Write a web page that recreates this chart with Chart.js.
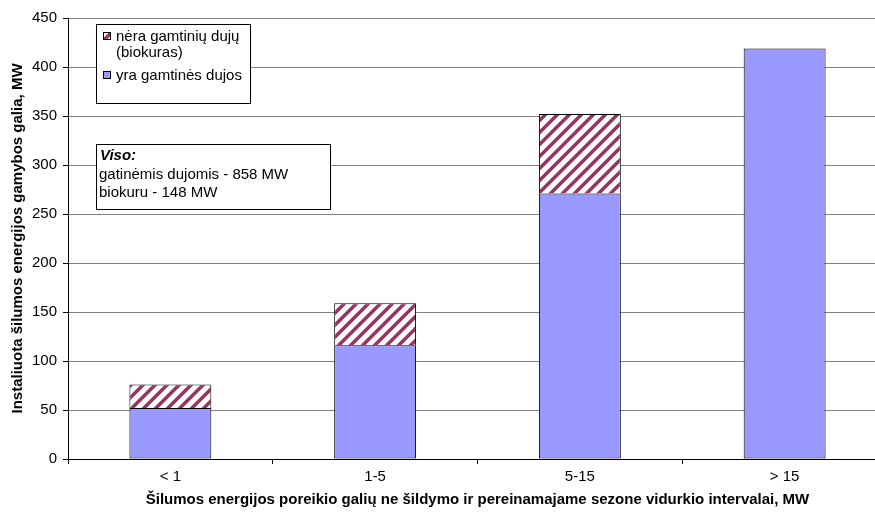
<!DOCTYPE html>
<html>
<head>
<meta charset="utf-8">
<script src="https://cdn.jsdelivr.net/npm/chart.js@4"></script>
<style>
  html, body { margin: 0; padding: 0; background: #fff; overflow: hidden; }
  #wrap { width: 875px; height: 512px; position: relative; overflow: hidden; }
  #chart { position: absolute; left: 0; top: 0; }
</style>
</head>
<body>
<!-- plot area runs a little past the right edge, like the original -->
<div id="wrap"><canvas id="chart" width="887" height="512"></canvas></div>
<script>
const categories = ['< 1', '1-5', '5-15', '> 15'];
const gasValues = [52, 116, 271, 419];
const bioValues = [24, 43, 81, 0];
const yTicks = [0, 50, 100, 150, 200, 250, 300, 350, 400, 450];

const gasLabel = 'yra gamtinės dujos';
const bioLabel = ['nėra gamtinių dujų', '(biokuras)'];
const xTitle = 'Šilumos energijos poreikio galių ne šildymo ir pereinamajame sezone vidurkio intervalai, MW';
const yTitle = 'Instaliuota šilumos energijos gamybos galia, MW';

const FONT = '"Liberation Sans", Arial, sans-serif';

// diagonal maroon stripes on white
function makeHatch() {
  const c = document.createElement('canvas');
  c.width = 12; c.height = 12;
  const g = c.getContext('2d');
  g.fillStyle = '#fff';
  g.fillRect(0, 0, 12, 12);
  g.strokeStyle = '#993366';
  g.lineWidth = 3.5;
  g.beginPath();
  g.moveTo(-3, 15); g.lineTo(15, -3);
  g.moveTo(-9, 9); g.lineTo(9, -9);
  g.moveTo(3, 21); g.lineTo(21, 3);
  g.stroke();
  return g.createPattern(c, 'repeat');
}
const ctx = document.getElementById('chart').getContext('2d');
const hatch = makeHatch();

const sum = arr => arr.reduce((a, b) => a + b, 0);

// legend and summary boxes drawn inside the plot
const boxes = {
  id: 'boxes',
  afterDraw(chart) {
    const c = chart.ctx;
    c.save();
    c.lineWidth = 1;
    c.strokeStyle = '#000';
    c.fillStyle = '#fff';
    c.fillRect(96.5, 24.5, 154, 79);
    c.strokeRect(96.5, 24.5, 154, 79);
    c.font = '15px ' + FONT;
    c.textBaseline = 'middle';
    // hatched entry
    c.fillStyle = hatch;
    c.fillRect(103.5, 32.5, 7, 7);
    c.strokeRect(103.5, 32.5, 7, 7);
    c.fillStyle = '#000';
    c.fillText(bioLabel[0], 116, 37);
    c.fillText(bioLabel[1], 116, 53);
    // gas entry
    c.fillStyle = '#9999ff';
    c.fillRect(103.5, 71.5, 7, 7);
    c.strokeRect(103.5, 71.5, 7, 7);
    c.fillStyle = '#000';
    c.fillText(gasLabel, 116, 76);

    c.fillStyle = '#fff';
    c.fillRect(96.5, 144.5, 234, 65);
    c.strokeRect(96.5, 144.5, 234, 65);
    c.fillStyle = '#000';
    c.font = 'italic bold 15px ' + FONT;
    c.fillText('Viso:', 100, 156);
    c.font = '15px ' + FONT;
    c.fillText('gatinėmis dujomis - ' + sum(gasValues) + ' MW', 99, 175);
    c.fillText('biokuru - ' + sum(bioValues) + ' MW', 99, 193);
    c.restore();
  }
};

new Chart(ctx, {
  type: 'bar',
  data: {
    labels: categories,
    datasets: [
      {
        label: gasLabel,
        data: gasValues,
        backgroundColor: '#9999ff',
        borderColor: '#000',
        borderWidth: 1,
        borderSkipped: false
      },
      {
        label: bioLabel.join(' '),
        data: bioValues,
        backgroundColor: hatch,
        borderColor: '#000',
        borderWidth: 1,
        borderSkipped: 'bottom'
      }
    ]
  },
  options: {
    responsive: false,
    animation: false,
    layout: { padding: { left: 0, right: 0, top: 18, bottom: 0 } },
    datasets: { bar: { categoryPercentage: 1, barPercentage: 0.4 } },
    plugins: {
      legend: { display: false },
      tooltip: { enabled: false }
    },
    scales: {
      x: {
        stacked: true,
        afterFit: s => { s.height = 53; },
        grid: { offset: true, drawOnChartArea: false, tickLength: 5, color: '#000' },
        border: { color: '#000' },
        ticks: { color: '#000', font: { family: FONT, size: 15 }, padding: 4 },
        title: {
          display: true,
          text: xTitle,
          color: '#000',
          font: { family: FONT, size: 15, weight: 'bold' },
          padding: { top: 0, bottom: 3 }
        }
      },
      y: {
        stacked: true,
        min: 0,
        max: 450,
        afterFit: s => { s.width = 68; },
        afterBuildTicks: s => { s.ticks = yTicks.map(v => ({ value: v })); },
        grid: { color: '#808080', tickLength: 5, tickColor: '#000' },
        border: { color: '#000' },
        ticks: { color: '#000', font: { family: FONT, size: 15 }, padding: 6 },
        title: {
          display: true,
          text: yTitle,
          color: '#000',
          font: { family: FONT, size: 15, weight: 'bold' },
          padding: { top: 9, bottom: 0 }
        }
      }
    }
  },
  plugins: [boxes]
});
</script>
</body>
</html>
